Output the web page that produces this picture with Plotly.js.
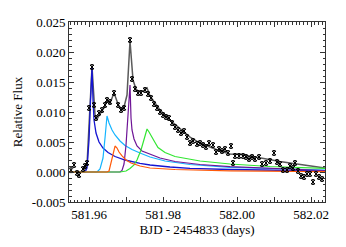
<!DOCTYPE html>
<html>
<head>
<meta charset="utf-8">
<script src="https://cdn.plot.ly/plotly-3.0.1.min.js"></script>
<style>html,body{margin:0;padding:0;background:#fff;}#chart{width:346px;height:247px;}</style>
</head>
<body>
<div id="chart"></div>
<script>
// Observed light curve (BJD - 2454833, relative flux)
const obsTime = [581.95514,581.95595,581.95676,581.9573,581.95838,581.95892,581.95946,581.96,581.96081,581.96135,
581.96189,581.9627,581.96351,581.96432,581.96486,581.96568,581.96676,581.96784,581.96865,581.96946,
581.97108,581.97162,581.97243,581.97324,581.97405,581.97514,581.97595,581.97676,581.97757,581.97838,
581.97919,581.98,581.98081,581.98162,581.98243,581.98324,581.98405,581.98486,581.98568,581.98649,
581.9873,581.98811,581.98919,581.99,581.99081,581.99162,581.99243,581.99351,581.99432,581.99514,
581.99595,581.99676,581.99757,581.99838,581.99892,581.99946,582.00054,582.00162,582.00243,582.00324,
582.00405,582.00486,582.00595,582.00676,582.00784,582.00892,582.01,582.01081,582.01162,582.01243,
582.01351,582.01432,582.01514,582.01568,582.01649,582.0173,582.01811,582.01892,582.01973,582.02054,
582.02135,582.02216,582.02297];
const obsFlux = [0.0003,0.00117,-0.00017,-0.0005,0.0005,0.001,0.0015,0.01067,0.0175,0.01117,
0.009,0.00983,0.01033,0.01117,0.012,0.01167,0.01317,0.01117,0.01033,0.01067,
0.022,0.0155,0.01383,0.01317,0.01317,0.01367,0.013,0.01233,0.01133,0.01067,
0.01,0.0095,0.00917,0.009,0.00817,0.0075,0.007,0.0065,0.00683,0.00583,
0.00483,0.00517,0.00467,0.00483,0.0045,0.00417,0.00483,0.0045,0.00333,0.00383,
0.0035,0.00383,0.00317,0.00433,0.0015,0.00267,0.00267,0.00267,0.0025,0.00217,
0.0025,0.00217,0.0025,0.00133,0.0015,0.00183,0.00317,0.00167,0.00133,0.00033,
0.00033,0.001,0.00067,0.0015,0.00017,-0.00067,-0.00083,-0.00033,-0.00033,-0.00167,
-0.00033,-0.00083,-0.00117];
const obsErr = 0.0004;

// Total model (gray)
const modelTime = [581.95459,581.95865,581.95946,581.96,581.96081,581.96162,581.96216,581.96297,581.96405,581.96486,
581.96568,581.96676,581.96784,581.96865,581.96946,581.97027,581.97108,581.97189,581.9727,581.97351,
581.97459,581.97568,581.97649,581.97784,581.97919,581.98189,581.98459,581.9873,581.99,581.9927,
581.99541,581.99811,582.00081,582.00351,582.00622,582.00892,582.01162,582.01432,582.01703,582.01973,582.02378];
const modelFlux = [0,0.00008,0.00117,0.00783,0.0175,0.0095,0.00883,0.00967,0.01067,0.01183,
0.0115,0.01317,0.01133,0.0105,0.01083,0.01283,0.02183,0.01533,0.01383,0.01333,
0.0135,0.014,0.01267,0.0115,0.01033,0.00867,0.00717,0.00583,0.00483,0.00417,
0.0035,0.003,0.00292,0.00267,0.00233,0.002,0.00175,0.0015,0.00125,0.001,0.00067];

// Individual flare components
const blueTime = [581.95459,581.95892,581.95946,581.96,581.96041,581.96081,581.96108,581.96135,581.96189,581.9627,
581.96378,581.96514,581.96703,581.96973,581.97378,581.97649,581.98189,581.9873,581.99811,582.01162,582.02378];
const blueFlux = [0,0,0.00067,0.00533,0.012,0.01733,0.012,0.00867,0.0065,0.005,
0.004,0.00325,0.00258,0.002,0.00142,0.00117,0.00083,0.00062,0.00042,0.00025,0.00017];

const cyanTime = [581.95459,581.96216,581.96297,581.96378,581.96432,581.96486,581.96541,581.96622,581.96703,581.96838,
581.96973,581.97162,581.97378,581.97649,581.98054,581.9873,581.99811,582.01162,582.02378];
const cyanFlux = [0,0,0.0005,0.00233,0.00567,0.00933,0.00817,0.007,0.00617,0.00517,
0.00442,0.00375,0.00317,0.0025,0.00183,0.00125,0.00078,0.0005,0.00033];

const orangeTime = [581.95459,581.96486,581.96541,581.96595,581.96649,581.96703,581.96757,581.96811,581.96892,581.97,
581.97135,581.97378,581.97649,581.98324,581.99811,582.02378];
const orangeFlux = [0,0,0.00017,0.00167,0.00317,0.00433,0.004,0.00333,0.00267,0.002,
0.0015,0.001,0.00067,0.00042,0.0002,0.00005];

const purpleTime = [581.95459,581.96838,581.96892,581.96946,581.97,581.97054,581.97108,581.97135,581.97162,581.97216,
581.97297,581.97432,581.97649,581.97919,581.98324,581.99,581.99811,582.01162,582.02378];
const purpleFlux = [0,0,0.00025,0.00133,0.0045,0.01,0.0145,0.009,0.007,0.0055,
0.00433,0.0035,0.00292,0.00233,0.00175,0.00125,0.00088,0.0005,0.00025];

const greenTime = [581.95459,581.96838,581.97,581.97108,581.97216,581.97297,581.97405,581.97486,581.97568,581.97622,
581.97676,581.97784,581.97865,581.98054,581.98324,581.98595,581.99,581.99811,582.00892,582.02378];
const greenFlux = [0,0,0.00017,0.00058,0.00117,0.002,0.00367,0.00533,0.00717,0.00667,
0.006,0.00492,0.00408,0.00325,0.00258,0.00225,0.00183,0.00133,0.00092,0.00062];

const xTickVals = [581.96,581.97,581.98,581.99,582.00,582.01,582.02];
const xTickText = ['581.96','','581.98','','582.00','','582.02'];
const yTickVals = [-0.005,0,0.005,0.010,0.015,0.020,0.025];
const yTickText = ['-0.005','0.000','0.005','0.010','0.015','0.020','0.025'];

function line(x, y, color, w) {
  return {x: x, y: y, type: 'scatter', mode: 'lines', line: {color: color, width: w}, hoverinfo: 'skip', showlegend: false};
}

const traces = [
  line(modelTime, modelFlux, '#5a5a5a', 1.5),
  line(blueTime, blueFlux, '#1414d2', 1.3),
  line(cyanTime, cyanFlux, '#14b4ff', 1.2),
  line(purpleTime, purpleFlux, '#6e1496', 1.2),
  line(greenTime, greenFlux, '#32e632', 1.2),
  line(orangeTime, orangeFlux, '#ff5a0a', 1.2),
  {x: obsTime, y: obsFlux, type: 'scatter', mode: 'markers', showlegend: false,
   marker: {symbol: 'x-thin-open', size: 4, color: '#000', line: {color: '#000', width: 1}},
   error_y: {type: 'constant', value: obsErr, color: '#000', thickness: 1, width: 1.5}}
];

const axisFont = {family: '"Liberation Serif", "DejaVu Serif", serif', size: 13, color: '#000'};

const layout = {
  width: 346, height: 247,
  margin: {l: 69, r: 21, t: 22, b: 45},
  paper_bgcolor: '#fff', plot_bgcolor: '#fff',
  showlegend: false,
  font: axisFont,
  xaxis: {
    range: [581.95459, 582.02378],
    tickmode: 'array', tickvals: xTickVals, ticktext: xTickText,
    ticks: 'inside', ticklen: 5, tickwidth: 1, tickcolor: '#333',
    minor: {dtick: 0.001, ticks: 'inside', ticklen: 2.5, tickcolor: '#333', showgrid: false},
    showgrid: false, zeroline: false,
    showline: true, linecolor: '#333', linewidth: 1, mirror: 'allticks',
    tickfont: axisFont,
    title: {text: 'BJD - 2454833 (days)', font: axisFont, standoff: 4}
  },
  yaxis: {
    range: [-0.005, 0.025],
    tickmode: 'array', tickvals: yTickVals, ticktext: yTickText,
    ticks: 'inside', ticklen: 5, tickwidth: 1, tickcolor: '#333',
    minor: {dtick: 0.001, ticks: 'inside', ticklen: 2.5, tickcolor: '#333', showgrid: false},
    showgrid: false, zeroline: false,
    showline: true, linecolor: '#333', linewidth: 1, mirror: 'allticks',
    tickfont: axisFont,
    title: {text: 'Relative Flux', font: axisFont, standoff: 6}
  }
};

Plotly.newPlot('chart', traces, layout, {staticPlot: true, displayModeBar: false});
</script>
</body>
</html>
